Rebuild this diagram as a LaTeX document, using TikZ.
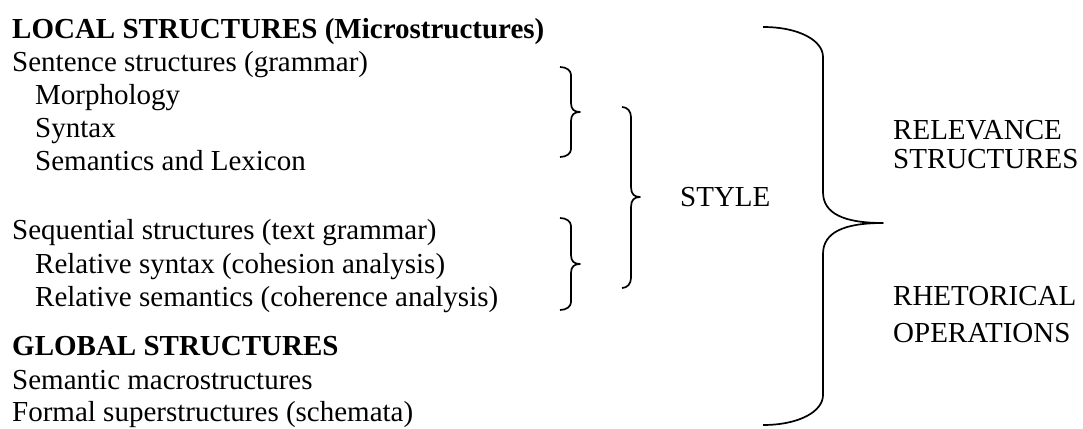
\documentclass[tikz,border=0pt]{standalone}
\usepackage{fontspec}
\setmainfont{Liberation Serif}
\usepackage{tikz}

% one brace: end x, body x, tip x, top y, tip y, bottom y, end bend, tip bend
\newcommand{\curlybrace}[8]{%
  \draw[brace line] (#1,#4)
    .. controls ({#1+0.6*(#2-#1)},#4) and (#2,{#4+0.45*#7}) .. (#2,{#4+#7})
    -- (#2,{#5-#8})
    .. controls (#2,{#5-0.3*#8}) and ({#2+0.35*(#3-#2)},#5) .. (#3,#5)
    .. controls ({#2+0.35*(#3-#2)},#5) and (#2,{#5+0.3*#8}) .. (#2,{#5+#8})
    -- (#2,{#6-#7})
    .. controls (#2,{#6-0.45*#7}) and ({#1+0.6*(#2-#1)},#6) .. (#1,#6);}

\begin{document}
\begin{tikzpicture}[x=1pt,y=-1pt,
  txt/.style={anchor=base west,inner sep=0pt,font=\fontsize{29}{33}\selectfont},
  head/.style={txt,font=\fontsize{29}{33}\selectfont\bfseries},
  brace line/.style={line width=1.7pt,line join=round}]
  \useasboundingbox (0,0) rectangle (1083,428);

  % left column
  \node[head] (local) at (12,38) {LOCAL STRUCTURES (Microstructures)};
  \node[txt] (sent) at (12,71) {Sentence structures (grammar)};
  \foreach \nm/\yy/\t in {morph/104/Morphology, syn/137/Syntax, sem/170/Semantics and Lexicon}
    \node[txt] (\nm) at (35,\yy) {\t};
  \node[txt] (seq) at (12,239) {Sequential structures (text grammar)};
  \foreach \nm/\yy/\t in {relsyn/273/Relative syntax (cohesion analysis), relsem/306/Relative semantics (coherence analysis)}
    \node[txt] (\nm) at (35,\yy) {\t};
  \node[head] (global) at (12,355) {GLOBAL STRUCTURES};
  \node[txt] (macro) at (12,389) {Semantic macrostructures};
  \node[txt] (super) at (12,421) {Formal superstructures (schemata)};

  % braces
  \curlybrace{560}{571}{580}{67}{112}{157}{8}{9}
  \curlybrace{560}{571}{580}{218}{264}{310}{8}{9}
  \curlybrace{622}{631}{640}{107}{197}{288}{10}{10}
  \curlybrace{763}{823}{883}{27}{223}{425}{30}{31}

  % right labels
  \node[txt] (style) at (680,206) {STYLE};
  \node[txt] (rel) at (893,139) {RELEVANCE};
  \node[txt] (struct) at (893,168) {STRUCTURES};
  \node[txt] (rhet) at (893,305) {RHETORICAL};
  \node[txt] (oper) at (893,342) {OPERATIONS};
\end{tikzpicture}
\end{document}
